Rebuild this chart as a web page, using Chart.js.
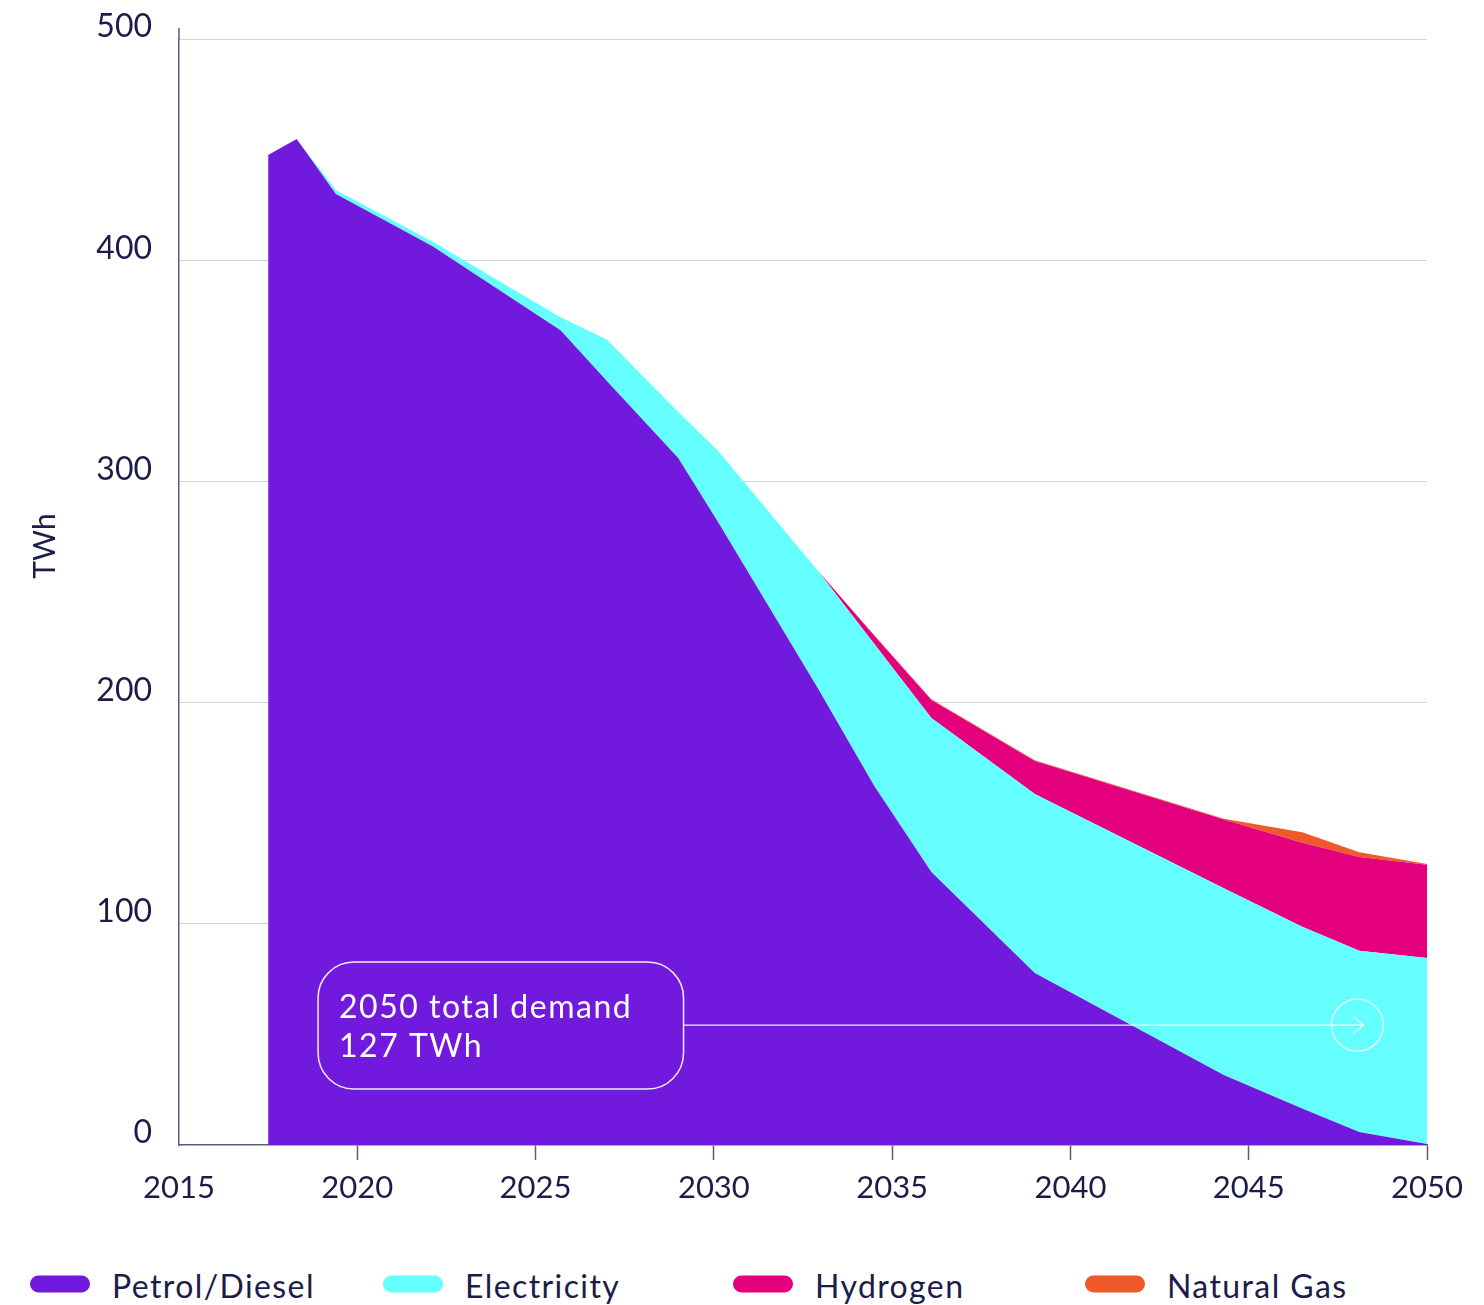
<!DOCTYPE html>
<html lang="en">
<head>
<meta charset="utf-8">
<title>Road transport energy demand</title>
<script src="https://cdn.jsdelivr.net/npm/chart.js@4.4.1/dist/chart.umd.min.js"></script>
<style>
    html, body {
        margin: 0;
        padding: 0;
        background: #ffffff;
    }
    .chart-wrap {
        position: relative;
        width: 1484px;
        height: 1245px;
    }
    .legend {
        position: relative;
        width: 1484px;
        height: 60px;
        font-family: Lato, "Open Sans", sans-serif;
        font-weight: 400;
        color: #1c1c4a;
    }
    .legend-item {
        position: absolute;
        top: 40px;
        transform: translateY(-50%);
        display: flex;
        align-items: center;
        font-size: 32px;
        letter-spacing: 1.4px;
        white-space: nowrap;
    }
    .legend-swatch {
        width: 60px;
        height: 17px;
        border-radius: 9px;
        margin-right: 22px;
        margin-top: -2px;
    }
</style>
</head>
<body>
<div class="chart-wrap">
    <canvas id="demandChart"></canvas>
</div>
<div class="legend" id="demandLegend"></div>

<script>
// Years of each point (decimal years on a linear axis)
const years = [2017.5, 2018.3, 2019.4, 2022.1, 2025.7, 2027.0, 2029.0, 2030.1,
               2032.9, 2034.5, 2036.1, 2039.0, 2044.3, 2046.5, 2048.1, 2050];

// Demand per fuel, TWh
const petrolDiesel = [447.6, 454.8, 429.9, 406.4, 368.3, 345.4, 310.6, 282.1,
                      206.9, 162.3, 123.4, 77.8, 31.6, 16.5, 5.9, 0.5];
const electricity  = [0, 0, 1.8, 2.0, 5.9, 18.8, 20.8, 32.1,
                      53.0, 64.2, 69.6, 80.9, 84.5, 82.2, 81.9, 84.0];
const hydrogen     = [0, 0, 0, 0, 0, 0, 0, 0,
                      0, 3.7, 8.2, 14.9, 31.1, 37.9, 42.4, 42.2];
const naturalGas   = [0, 0, 0, 0, 0, 0, 0, 0,
                      0, 0.3, 0.3, 0.3, 0.3, 4.8, 2.2, 0.3];

const seriesNames = ['Petrol/Diesel', 'Electricity', 'Hydrogen', 'Natural Gas'];
const seriesColors = ['#7219de', '#66ffff', '#e4007c', '#f05a2a'];

const xTicks = [2015, 2020, 2025, 2030, 2035, 2040, 2045, 2050];
const yTicks = [0, 100, 200, 300, 400, 500];
const noteText = ['2050 total demand', '127 TWh'];

const NAVY = '#1c1c4a';
const AXIS = '#5a5c80';
const FONT = 'Lato, "Open Sans", sans-serif';

// Callout box + arrow, placed in data coordinates
const callout = {
    boxFrom: 2018.9, boxTo: 2029.15,
    boxTop: 82.7, boxBottom: 25.3,
    arrowAt: 2048.05, arrowValue: 54.2
};

function toPoints(values) {
    return values.map((v, i) => ({ x: years[i], y: v }));
}

const calloutPlugin = {
    id: 'callout',
    afterDatasetsDraw(chart) {
        const { ctx, scales: { x, y } } = chart;
        const left = x.getPixelForValue(callout.boxFrom);
        const right = x.getPixelForValue(callout.boxTo);
        const top = y.getPixelForValue(callout.boxTop);
        const bottom = y.getPixelForValue(callout.boxBottom);
        const cx = x.getPixelForValue(callout.arrowAt);
        const cy = y.getPixelForValue(callout.arrowValue);
        const r = 36;
        const cr = 26;

        ctx.save();
        ctx.strokeStyle = 'rgba(255,255,255,0.92)';
        ctx.lineWidth = 1.5;

        // rounded box
        ctx.beginPath();
        ctx.moveTo(left + r, top);
        ctx.arcTo(right, top, right, bottom, r);
        ctx.arcTo(right, bottom, left, bottom, r);
        ctx.arcTo(left, bottom, left, top, r);
        ctx.arcTo(left, top, right, top, r);
        ctx.closePath();
        ctx.stroke();

        // connector line into the circle, ending at the arrow tip
        ctx.lineWidth = 1.2;
        ctx.beginPath();
        ctx.moveTo(right, cy);
        ctx.lineTo(cx + 6, cy);
        ctx.stroke();

        ctx.beginPath();
        ctx.arc(cx, cy, cr, 0, Math.PI * 2);
        ctx.stroke();

        ctx.beginPath();
        ctx.moveTo(cx - 4, cy - 8.5);
        ctx.lineTo(cx + 6, cy);
        ctx.lineTo(cx - 4, cy + 8.5);
        ctx.stroke();

        // text
        ctx.fillStyle = '#ffffff';
        ctx.font = '400 32px ' + FONT;
        if ('letterSpacing' in ctx) ctx.letterSpacing = '1.5px';
        ctx.textBaseline = 'alphabetic';
        ctx.textAlign = 'left';
        ctx.fillText(noteText[0], left + 21, top + 56);
        ctx.fillText(noteText[1], left + 21, top + 95);
        ctx.restore();
    },
    afterDraw(chart) {
        const { ctx, chartArea } = chart;
        ctx.save();
        // y axis line runs a little above the plot
        ctx.strokeStyle = AXIS;
        ctx.lineWidth = 1.5;
        ctx.beginPath();
        ctx.moveTo(chartArea.left, chartArea.top - 11);
        ctx.lineTo(chartArea.left, chartArea.top);
        ctx.stroke();

        // unit label
        ctx.translate(45, 546);
        ctx.rotate(-Math.PI / 2);
        ctx.fillStyle = NAVY;
        ctx.font = '400 30px ' + FONT;
        ctx.textAlign = 'center';
        ctx.textBaseline = 'middle';
        ctx.fillText('TWh', 0, 0);
        ctx.restore();
    }
};

const datasets = [petrolDiesel, electricity, hydrogen, naturalGas].map((vals, i) => ({
    label: seriesNames[i],
    data: toPoints(vals),
    backgroundColor: seriesColors[i],
    borderWidth: 0,
    pointRadius: 0,
    tension: 0,
    fill: i === 0 ? 'origin' : '-1'
}));

new Chart(document.getElementById('demandChart'), {
    type: 'line',
    data: { datasets },
    options: {
        responsive: true,
        maintainAspectRatio: false,
        animation: false,
        layout: {
            padding: { top: 39, right: 57, bottom: 0, left: 0 }
        },
        plugins: {
            legend: { display: false },
            tooltip: { enabled: false }
        },
        scales: {
            x: {
                type: 'linear',
                min: 2015,
                max: 2050,
                afterFit(scale) { scale.height = 100; },
                afterBuildTicks(scale) {
                    scale.ticks = xTicks.map(v => ({ value: v }));
                },
                border: { display: true, color: AXIS, width: 1.5 },
                grid: {
                    drawOnChartArea: false,
                    drawTicks: true,
                    tickLength: 15,
                    tickWidth: 1.5,
                    tickColor: ctx => (ctx.tick && ctx.tick.value === 2015) ? 'rgba(0,0,0,0)' : AXIS
                },
                ticks: {
                    color: NAVY,
                    padding: 9,
                    maxRotation: 0,
                    autoSkip: false,
                    font: { family: FONT, size: 31, weight: 400 },
                    callback: v => String(v)
                }
            },
            y: {
                stacked: true,
                min: 0,
                max: 500,
                afterFit(scale) {
                    scale.width = 179;
                    scale.paddingTop = 0;
                    scale.paddingBottom = 0;
                },
                afterBuildTicks(scale) {
                    scale.ticks = yTicks.map(v => ({ value: v }));
                },
                border: { display: true, color: AXIS, width: 1.5 },
                grid: {
                    drawTicks: false,
                    color: ctx => (ctx.tick && ctx.tick.value === 0) ? 'rgba(0,0,0,0)' : '#d4d4e0',
                    lineWidth: 1
                },
                ticks: {
                    color: NAVY,
                    padding: 27,
                    labelOffset: -12,
                    font: { family: FONT, size: 32, weight: 400 }
                }
            }
        }
    },
    plugins: [calloutPlugin]
});

// HTML legend
const legend = document.getElementById('demandLegend');
const legendX = [30, 383, 733, 1085];
seriesNames.forEach((name, i) => {
    const item = document.createElement('div');
    item.className = 'legend-item';
    item.style.left = legendX[i] + 'px';
    item.innerHTML = '<span class="legend-swatch" style="background:' + seriesColors[i] + '"></span>' +
                     '<span>' + name + '</span>';
    legend.appendChild(item);
});
</script>
</body>
</html>
